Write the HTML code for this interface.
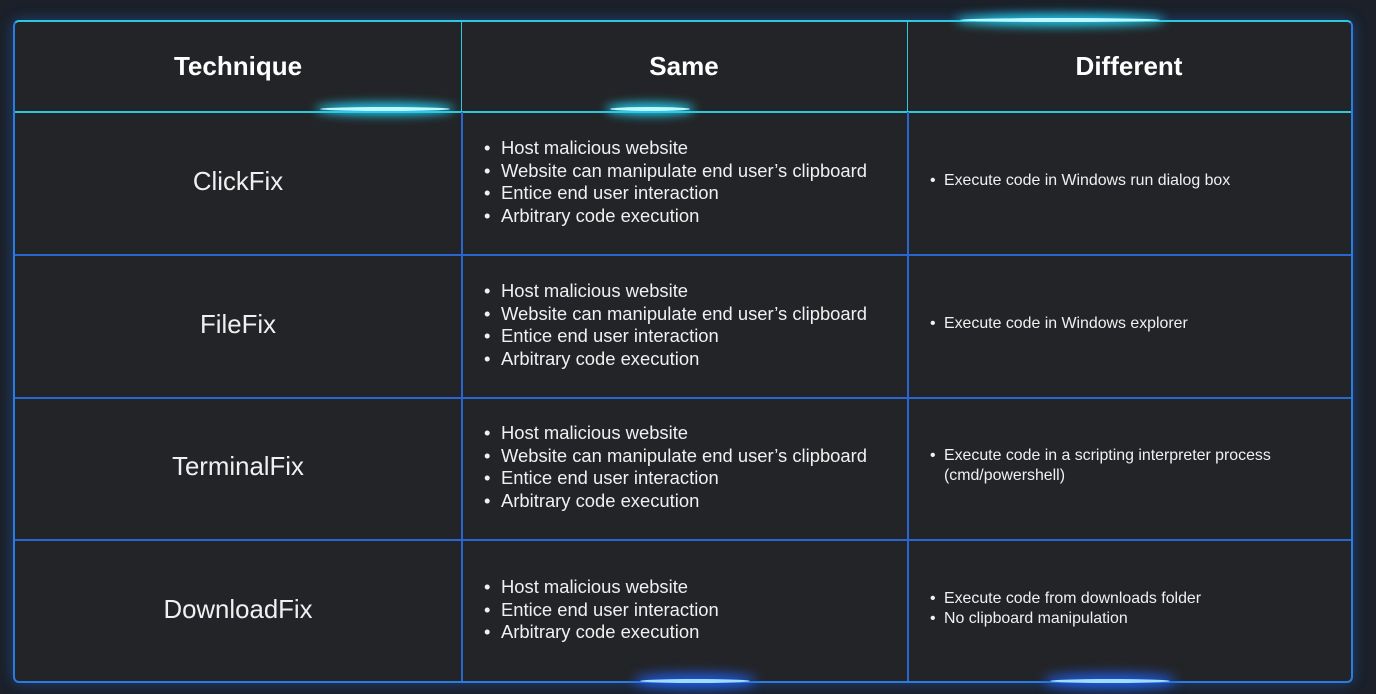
<!DOCTYPE html>
<html><head><style>
body{margin:0;width:1376px;height:694px;background:#1b2029;overflow:hidden;position:relative;font-family:"Liberation Sans",sans-serif;color:#f0f0f0}
.tbl{position:absolute;left:13px;top:20px;width:1336px;height:659px;background:#232427;border:2px solid #2a7de0;border-top-color:#2cc8e0;border-radius:6px;box-shadow:0 0 14px rgba(40,110,220,.45)}
.vl{position:absolute;width:2px;background:#2a66d0}
.hl{position:absolute;left:0;width:1336px;height:2px;background:#2a66d0}
.h{position:absolute;top:0;height:89px;line-height:89px;text-align:center;font-weight:bold;font-size:26px;color:#fff}
.t{position:absolute;left:0;width:446px;text-align:center;font-size:25.8px}
.s{position:absolute;left:484px;font-size:18.4px;line-height:22.6px;margin:0;padding:0;list-style:none}
.s li:before,.d li:before{content:"•";position:absolute;left:0}
.s li{padding-left:17px;position:relative}
.d li{padding-left:14px;position:relative}
.d{position:absolute;left:930px;font-size:15.9px;line-height:20px;margin:0;padding:0;list-style:none;width:400px}
.glow{position:absolute;height:4px;border-radius:50%;background:#bff6ff;box-shadow:0 0 10px 4px #20d0f0}
</style></head><body>
<div class="tbl">
<div class="hl" style="top:89px;height:2px;background:#2cc8e0"></div>
<div class="vl" style="left:446px;top:0;height:89px;width:1px;background:#2cc8e0"></div>
<div class="vl" style="left:892px;top:0;height:89px;width:1px;background:#2cc8e0"></div>
<div class="vl" style="left:446px;top:90px;height:569px"></div>
<div class="vl" style="left:892px;top:90px;height:569px"></div>
<div class="hl" style="top:232px"></div>
<div class="hl" style="top:375px"></div>
<div class="hl" style="top:517px"></div>
<div class="h" style="left:0;width:446px">Technique</div>
<div class="h" style="left:446px;width:446px">Same</div>
<div class="h" style="left:892px;width:444px">Different</div>
<div class="t" style="top:146px">ClickFix</div>
<div class="t" style="top:289px">FileFix</div>
<div class="t" style="top:431px">TerminalFix</div>
<div class="t" style="top:574px">DownloadFix</div>
</div>
<ul class="s" style="top:137px"><li>Host malicious website</li><li>Website can manipulate end user’s clipboard</li><li>Entice end user interaction</li><li>Arbitrary code execution</li></ul>
<ul class="s" style="top:280px"><li>Host malicious website</li><li>Website can manipulate end user’s clipboard</li><li>Entice end user interaction</li><li>Arbitrary code execution</li></ul>
<ul class="s" style="top:422px"><li>Host malicious website</li><li>Website can manipulate end user’s clipboard</li><li>Entice end user interaction</li><li>Arbitrary code execution</li></ul>
<ul class="s" style="top:576px"><li>Host malicious website</li><li>Entice end user interaction</li><li>Arbitrary code execution</li></ul>
<ul class="d" style="top:171px"><li>Execute code in Windows run dialog box</li></ul>
<ul class="d" style="top:314px"><li>Execute code in Windows explorer</li></ul>
<ul class="d" style="top:446px"><li>Execute code in a scripting interpreter process (cmd/powershell)</li></ul>
<ul class="d" style="top:589px"><li>Execute code from downloads folder</li><li>No clipboard manipulation</li></ul>
<div class="glow" style="left:320px;top:107px;width:130px"></div>
<div class="glow" style="left:610px;top:107px;width:80px"></div>
<div class="glow" style="left:960px;top:18px;width:200px"></div>
<div class="glow" style="left:640px;top:679px;width:110px;background:#9fdcff;box-shadow:0 0 12px 5px #2060f0"></div>
<div class="glow" style="left:1050px;top:679px;width:120px;background:#9fdcff;box-shadow:0 0 12px 5px #2060f0"></div>
</body></html>
